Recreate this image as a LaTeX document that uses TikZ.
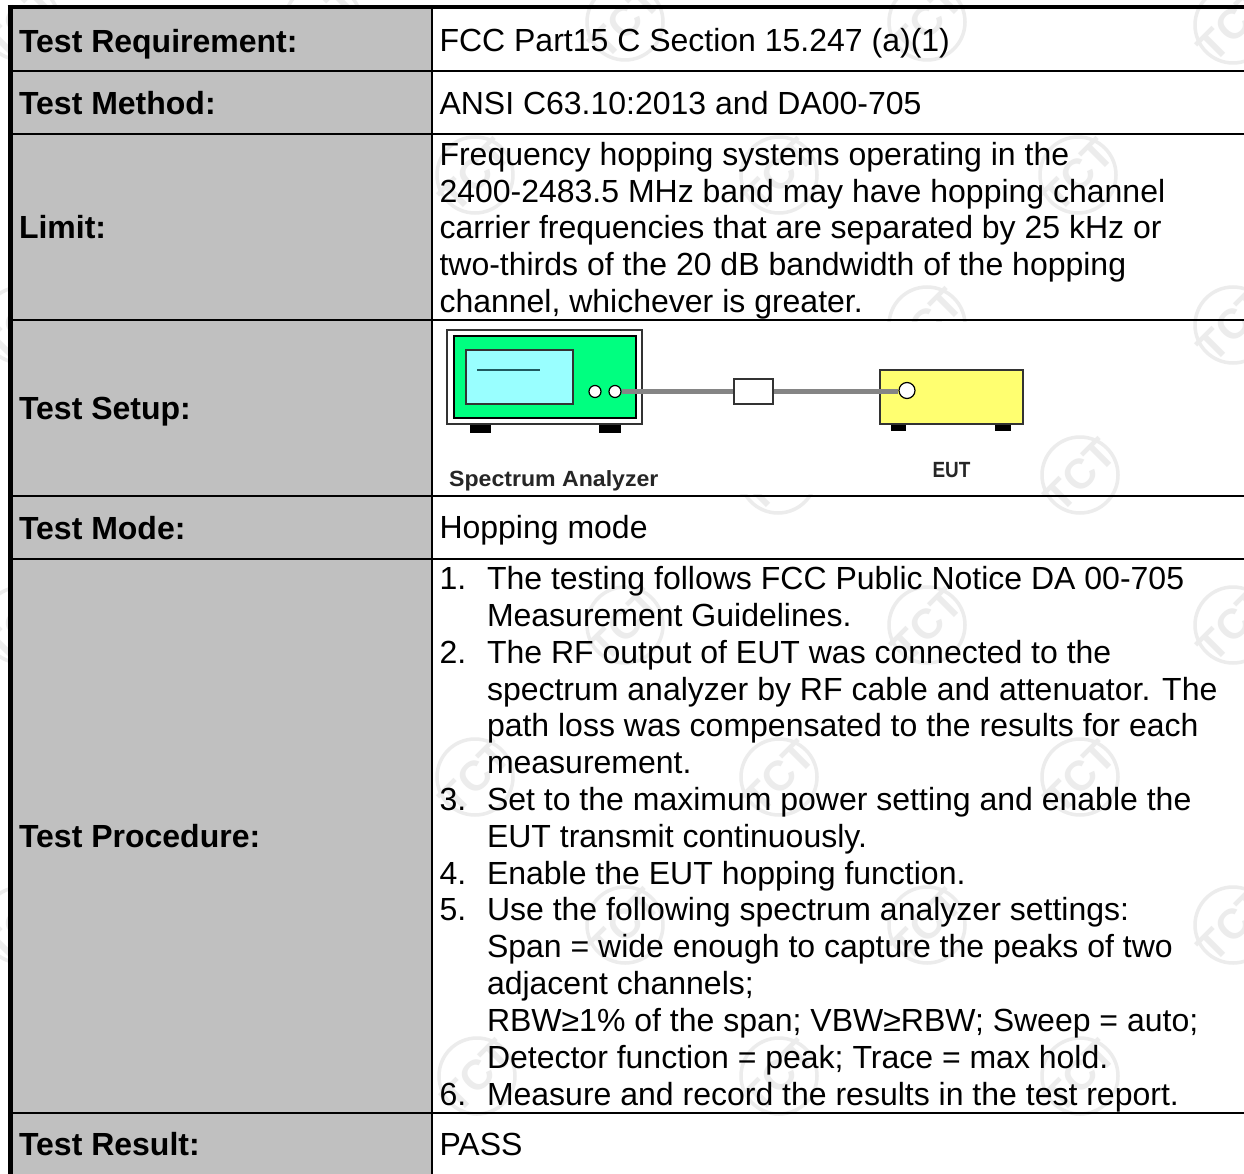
\documentclass[tikz,border=0pt]{standalone}
\usepackage{fontspec}
\setmainfont{Liberation Sans}
\definecolor{cellgray}{HTML}{C0C0C0}
\definecolor{stamp}{HTML}{ECECEC}
\definecolor{sagreen}{HTML}{00FF80}
\definecolor{sacyan}{HTML}{99FFFF}
\definecolor{eutyel}{HTML}{FFFF70}
\definecolor{cablegray}{HTML}{858585}
\definecolor{traceteal}{HTML}{1F5A60}
\tikzset{
 x=1pt,y=-1pt,
 txt/.style={anchor=base west,inner sep=0pt,outer sep=0pt,font=\fontsize{32}{36.8}\selectfont},
 head/.style={txt,font=\fontsize{32}{36.8}\selectfont\bfseries},
 small/.style={anchor=base west,inner sep=0pt,font=\fontsize{22}{24}\selectfont\bfseries,color=black!85},
 stampring/.style={stamp,line width=3.5pt},
 stamptext/.style={stamp,inner sep=0pt,rotate=45,font=\fontsize{42}{42}\selectfont\bfseries},
 foot/.style={fill=black,draw=none},
 port/.style={draw=black,circle,fill=white,inner sep=0pt,line width=1.2pt},
 cable/.style={cablegray,line width=5.5pt},
}
\newcommand{\wm}[3]{\draw[stampring] (#2,#3) circle[radius=38];\node[stamptext] (wm#1) at (#2,#3) {TCT};}
\begin{document}
\begin{tikzpicture}
\useasboundingbox (0,0) rectangle (1244,1174);
\fill[white] (0,0) rectangle (1244,1174);
% watermarks
\wm{a}{625}{22}\wm{b}{927}{22}\wm{c}{1233}{25}\wm{x}{323}{22}\wm{y}{21}{22}
\wm{a1}{475}{175}\wm{a2}{779}{175}\wm{b2}{1078}{175}
\wm{d}{927}{325}\wm{e}{1233}{325}
\wm{f}{778}{475}\wm{g}{1080}{475}
\wm{h}{625}{625}\wm{i}{927}{625}\wm{j}{1233}{625}
\wm{k}{475}{777}\wm{l}{779}{777}\wm{m}{1080}{777}
\wm{n}{625}{925}\wm{o}{927}{925}\wm{p}{1233}{925}
\wm{q}{477}{1076}\wm{r}{779}{1076}\wm{s}{1080}{1076}
\wm{t}{21}{325}\wm{u}{21}{625}\wm{v}{21}{925}
% gray column
\fill[cellgray] (10,8) rectangle (432,1174);
% setup image background
\fill[white] (434,322) rectangle (1030,494);
% rules
\draw[line width=4.5pt,black] (7.6,7.2) -- (1244,7.2);
\draw[line width=5pt,black] (10.2,5) -- (10.2,1174);
\draw[line width=2.4pt,black] (432,7) -- (432,1174);
\foreach \yy in {71,134,320,496,559,1113}{\draw[line width=2pt,black] (12,\yy) -- (1244,\yy);}
% left labels
\node[head] (h1) at (19,53) {Test Requirement:};
\node[head] (h2) at (19,115) {Test Method:};
\node[head] (h3) at (19,239) {Limit:};
\node[head] (h4) at (19,419) {Test Setup:};
\node[head] (h5) at (19,539) {Test Mode:};
\node[head] (h6) at (19,847) {Test Procedure:};
\node[head] (h7) at (19,1155) {Test Result:};
% right text
\node[txt] at (439.5,52) {FCC Part15 C Section 15.247 (a)(1)};
\node[txt] at (439.5,115) {ANSI C63.10:2013 and DA00-705};
\node[txt] at (439.5,166) {Frequency hopping systems operating in the};
\node[txt] at (439.5,203) {2400-2483.5 MHz band may have hopping channel};
\node[txt] at (439.5,239) {carrier frequencies that are separated by 25 kHz or};
\node[txt] at (439.5,276) {two-thirds of the 20 dB bandwidth of the hopping};
\node[txt] at (439.5,312) {channel, whichever is greater.};
\node[txt] at (439.5,538) {Hopping mode};
\node[txt] at (439.5,589) {1.};
\node[txt] at (487,589) {The testing follows FCC Public Notice DA 00-705};
\node[txt] at (487,626) {Measurement Guidelines.};
\node[txt] at (439.5,663) {2.};
\node[txt] at (487,663) {The RF output of EUT was connected to the};
\node[txt] at (487,700) {spectrum analyzer by RF cable and attenuator. The};
\node[txt] at (487,736) {path loss was compensated to the results for each};
\node[txt] at (487,773) {measurement.};
\node[txt] at (439.5,810) {3.};
\node[txt] at (487,810) {Set to the maximum power setting and enable the};
\node[txt] at (487,847) {EUT transmit continuously.};
\node[txt] at (439.5,884) {4.};
\node[txt] at (487,884) {Enable the EUT hopping function.};
\node[txt] at (439.5,920) {5.};
\node[txt] at (487,920) {Use the following spectrum analyzer settings:};
\node[txt] at (487,957) {Span = wide enough to capture the peaks of two};
\node[txt] at (487,994) {adjacent channels;};
\node[txt] at (487,1031) {RBW≥1\% of the span; VBW≥RBW; Sweep = auto;};
\node[txt] at (487,1068) {Detector function = peak; Trace = max hold.};
\node[txt] at (439.5,1105) {6.};
\node[txt] at (487,1105) {Measure and record the results in the test report.};
\node[txt] at (439.5,1155) {PASS};
% analyzer
\fill[foot] (470,423) rectangle (491,433);
\fill[foot] (599,423) rectangle (621,433);
\draw[black!80,line width=1.2pt,fill=white] (447,330) rectangle (642,424);
\draw[black,line width=1.5pt,fill=sagreen] (454,336) rectangle (636,418);
\draw[black!80,line width=2pt,fill=sacyan] (466,350) rectangle (573,404);
\draw[traceteal,line width=2.2pt] (477,370) -- (540,370);
% EUT
\fill[foot] (891,423) rectangle (906,431);
\fill[foot] (995,423) rectangle (1011,431);
\draw[black!80,line width=1.5pt,fill=eutyel] (880,370) rectangle (1023,424);
% cable
\node[draw=black!80,line width=1.2pt,fill=white,inner sep=0pt,minimum width=39pt,minimum height=25pt] (att) at (753.5,391.5) {};
\node[port,minimum size=12pt] (p1) at (595,391.5) {};
\node[port,minimum size=12pt] (p2) at (615,391.5) {};
\node[port,minimum size=16pt] (p3) at (907,390.5) {};
\draw[cable] (p2) -- (att);
\draw[cable] (att.east) -- (att.east -| p3.west);
\node[small,xscale=1.05] (sa) at (449,486) {Spectrum Analyzer};
\node[small,anchor=base,xscale=.86] (eut) at (951.5,477) {EUT};
\end{tikzpicture}
\end{document}
